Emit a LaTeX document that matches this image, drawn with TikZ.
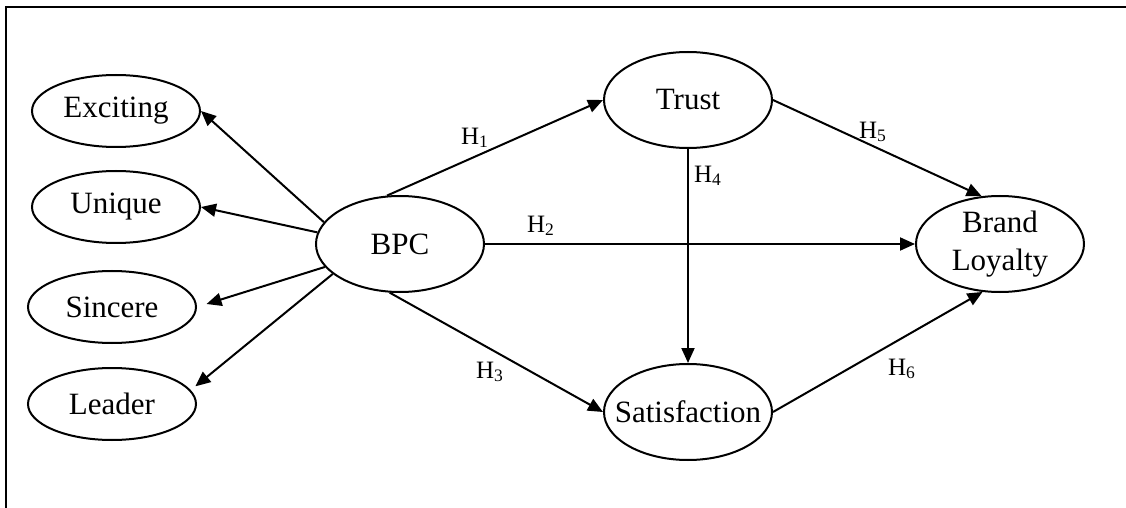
\documentclass[tikz,border=0pt]{standalone}
\usepackage{fontspec}
\setmainfont{Liberation Serif}
\usetikzlibrary{shapes.geometric,arrows.meta}

\begin{document}
\begin{tikzpicture}[x=0.5pt, y=-0.5pt, line width=1pt,
    main/.style = {draw, ellipse, inner xsep=-10pt, inner ysep=0pt, minimum width=84pt, minimum height=48pt, align=center, font=\fontsize{15.5}{19}\selectfont},
    small/.style = {main, minimum height=36pt},
    hyp/.style = {inner sep=0pt, font=\fontsize{12.5}{15}\selectfont},
    >={Triangle[length=7.5pt, width=6.5pt]}]
    \useasboundingbox (0,0) rectangle (1126,508);
    \draw (1126,7) -- (6,7) -- (6,508);
    \node[small] (1) at (116,111) {Exciting};
    \node[small] (2) at (116,207) {Unique};
    \node[small] (3) at (112,307) {Sincere};
    \node[small] (4) at (112,404) {Leader};
    \node[main] (5) at (400,244) {BPC};
    \node[main] (6) at (688,100) {Trust};
    \node[main] (7) at (688,412) {Satisfaction};
    \node[main] (8) at (1000,244) {Brand\\Loyalty};
    \draw[->] (5.164) -- (1.east);
    \draw[->] (5.172) -- (2.east);
    \draw[->, shorten >=5pt] (5.197) -- (3.east);
    \draw[->, shorten >=3pt] (5.204) -- (4.10);
    \draw[->] (5.105) -- (6.west);
    \draw[->] (5.east) -- (8.west);
    \draw[->] (5.258) -- (7.west);
    \draw[->] (6.south) -- (7.north);
    \draw[->] (6.east) -- (8.111);
    \draw[->] (7.east) -- (8.250);
    \node[hyp] (h1) at (475,138) {H\textsubscript{1}};
    \node[hyp] (h2) at (541,226) {H\textsubscript{2}};
    \node[hyp] (h3) at (490,372) {H\textsubscript{3}};
    \node[hyp] (h4) at (708,176) {H\textsubscript{4}};
    \node[hyp] (h5) at (873,132) {H\textsubscript{5}};
    \node[hyp] (h6) at (902,369) {H\textsubscript{6}};
\end{tikzpicture}
\end{document}
